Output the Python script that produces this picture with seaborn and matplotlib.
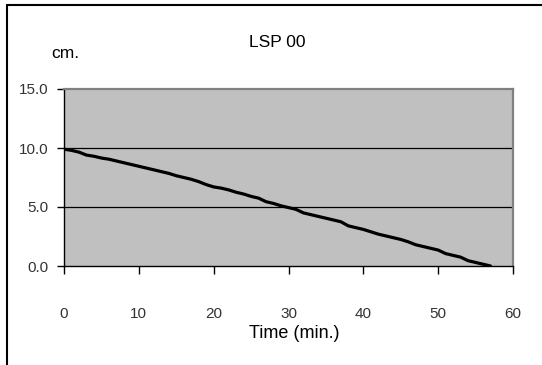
import matplotlib
matplotlib.use("Agg")
import matplotlib.pyplot as plt
from matplotlib.lines import Line2D
from matplotlib.ticker import FormatStrFormatter
import seaborn as sns
import pandas as pd

time_min = list(range(0, 58))
depth_cm = [9.9, 9.8, 9.65, 9.4, 9.3, 9.15, 9.05, 8.9, 8.75, 8.6,
            8.45, 8.3, 8.15, 8.0, 7.85, 7.65, 7.5, 7.35, 7.15, 6.9,
            6.7, 6.6, 6.45, 6.25, 6.1, 5.9, 5.75, 5.45, 5.3, 5.1,
            4.95, 4.8, 4.5, 4.35, 4.2, 4.05, 3.9, 3.75, 3.4, 3.25,
            3.1, 2.9, 2.7, 2.55, 2.4, 2.25, 2.05, 1.8, 1.65, 1.5,
            1.35, 1.05, 0.9, 0.75, 0.45, 0.3, 0.15, 0.0]
x_ticks = [0, 10, 20, 30, 40, 50, 60]
y_ticks = [0, 5, 10, 15]
title = "LSP 00"
x_label = "Time (min.)"
y_label = "cm."

df = pd.DataFrame({"t": time_min, "d": depth_cm})

sns.set_theme(style="white")
plt.rcParams["font.family"] = ["Liberation Sans", "DejaVu Sans"]

W, H = 542, 365
fig = plt.figure(figsize=(W / 100, H / 100), dpi=100)
fig.patch.set_facecolor("white")

L, R, T, B = 64, 513, 89, 266
ax = fig.add_axes([L / W, 1 - B / H, (R - L) / W, (B - T) / H])
ax.set_facecolor("#c0c0c0")

for yv in [5, 10]:
    ax.axhline(yv, color="black", lw=0.9, zorder=1)

sns.lineplot(data=df, x="t", y="d", ax=ax, color="black", linewidth=2.3, zorder=3)

ax.set_xlim(0, 60)
ax.set_ylim(0, 15)
ax.set_xticks(x_ticks)
ax.set_yticks(y_ticks)
ax.yaxis.set_major_formatter(FormatStrFormatter("%.1f"))

for s in ["left", "bottom"]:
    ax.spines[s].set_color("black")
    ax.spines[s].set_linewidth(1.0)
for s in ["top", "right"]:
    ax.spines[s].set_color("#808080")
    ax.spines[s].set_linewidth(1.6)
    ax.spines[s].set_visible(True)

ax.tick_params(axis="x", direction="out", length=5.5, width=1.0, color="black",
               pad=24, labelsize=11, labelcolor="#333333", bottom=True)
ax.tick_params(axis="y", direction="out", length=5, width=1.0, color="black",
               pad=6, labelsize=11, labelcolor="#333333", left=True)

ax.set_xlabel(x_label, fontsize=13, color="black")
ax.xaxis.set_label_coords((294 - L) / (R - L), (B - 333) / (B - T))
ax.xaxis.label.set_verticalalignment("center")

ax.set_ylabel(y_label, fontsize=12.5, rotation=0, color="black")
ax.yaxis.set_label_coords((65.5 - L) / (R - L), (B - 58) / (B - T))
ax.yaxis.label.set_verticalalignment("baseline")
ax.yaxis.label.set_horizontalalignment("center")

fig.text(277.5 / W, 1 - 47 / H, title, ha="center", va="baseline", fontsize=12.5, color="black")

# outer frame (top and left)
fig.add_artist(Line2D([7 / W, 1.0], [1 - 5 / H, 1 - 5 / H], transform=fig.transFigure,
                      color="black", lw=1.5))
fig.add_artist(Line2D([7 / W, 7 / W], [0.0, 1 - 5 / H], transform=fig.transFigure,
                      color="black", lw=1.5))

fig.savefig("out.png", dpi=100)
